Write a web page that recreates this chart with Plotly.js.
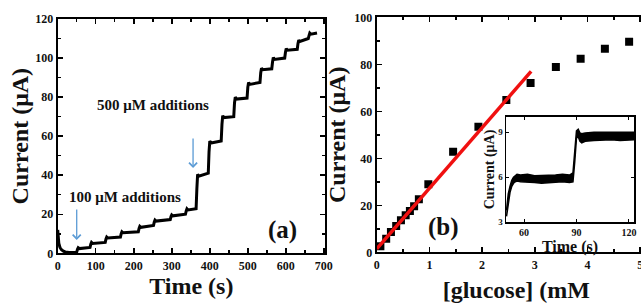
<!DOCTYPE html>
<html>
<head>
<meta charset="utf-8">
<script src="https://cdn.plot.ly/plotly-3.0.1.min.js"></script>
<style>
html,body{margin:0;padding:0;overflow:hidden;background:#fff;}
#chart{width:670px;height:305px;}
</style>
</head>
<body>
<div id="chart"></div>
<script>
// Panel (a): amperometric response
const timeS = [0,1,3,6,10,15,20,30,40,50,52,54,57,85,87,89,92,125,127,129,132,165,167,169,172,212,214,216,219,252,254,256,259,296,298,300,303,336,338,340,343,364,366,368,371,396,398,400,403,430,432,434,437,463,465,467,470,498,500,502,505,532,534,536,539,563,565,567,570,597,599,601,604,630,632,634,637,659,661,663,666,682];
const currentA = [12,8,5,3,1.8,1.1,0.7,0.4,0.4,0.6,2.0,2.8,2.4,3.0,4.6,5.6,5.0,5.6,7.3,8.3,7.8,8.3,10.0,11.0,10.5,11.0,12.8,13.8,13.3,14.3,16.0,17.0,16.5,17.3,18.8,19.7,19.2,20.0,21.7,22.8,22.2,22.8,33,40.5,39.5,41,52,57.5,56.5,57.5,66,70.5,69.5,70,77,80,79,79.5,85,87.5,86.5,87.5,92.5,94.8,94,94.5,98,100.3,99.3,100,103,104.8,104,104.5,107.5,109.2,108.5,110,111.5,112.8,112.2,112.8];

// Panel (b): calibration
const glucoseMM = [0.07,0.18,0.27,0.37,0.46,0.55,0.63,0.71,0.8,0.98,1.45,1.93,2.46,2.92,3.4,3.87,4.33,4.79];
const currentB = [2.6,5.8,8.6,11.2,13.6,15.8,17.6,19.6,22.6,29.0,42.8,53.4,64.8,72.0,78.8,82.4,86.6,89.6];
const fitX = [0, 2.93];
const fitY = [1.5, 77.0];

// Inset: response to one addition
const insetT = [50,51,52,53,54,55,56,58,62,66,70,74,78,82,86,88,89,90,91,92,93,95,100,105,110,115,120,123];
const insetUpper = [3.8,4.9,5.4,5.8,6.0,6.1,6.2,6.15,6.2,6.1,6.1,6.15,6.15,6.2,6.15,6.3,7.8,9.1,9.2,8.95,8.9,8.95,9.0,9.0,9.05,9.0,9.05,9.0];
const insetLower = [3.4,4.4,5.0,5.4,5.6,5.7,5.75,5.7,5.7,5.65,5.6,5.65,5.65,5.7,5.65,5.7,7.0,8.6,8.7,8.4,8.3,8.4,8.45,8.5,8.5,8.45,8.45,8.5];

const W = 670, H = 305;
const serif = 'Liberation Serif, Times New Roman, serif';
const bold = (s) => ({family: serif, size: s, color: '#111', weight: 'bold'});

const traces = [
  {x: timeS, y: currentA, type: 'scatter', mode: 'lines', line: {color: '#000', width: 3}, xaxis: 'x', yaxis: 'y', showlegend: false},
  {x: glucoseMM, y: currentB, type: 'scatter', mode: 'markers', marker: {symbol: 'square', size: 8, color: '#000'}, xaxis: 'x2', yaxis: 'y2', showlegend: false},
  {x: fitX, y: fitY, type: 'scatter', mode: 'lines', line: {color: '#f01010', width: 3.5}, xaxis: 'x2', yaxis: 'y2', showlegend: false},
  {x: insetT, y: insetLower, type: 'scatter', mode: 'lines', line: {color: '#000', width: 1.5}, xaxis: 'x3', yaxis: 'y3', showlegend: false},
  {x: insetT, y: insetUpper, type: 'scatter', mode: 'lines', fill: 'tonexty', fillcolor: '#000', line: {color: '#000', width: 1.5}, xaxis: 'x3', yaxis: 'y3', showlegend: false}
];

const axBase = {showline: true, linecolor: '#000', mirror: 'allticks', ticks: 'inside', tickcolor: '#000', showgrid: false, zeroline: false, fixedrange: true, automargin: false};

const layout = {
  width: W, height: H,
  margin: {l: 0, r: 0, t: 0, b: 0},
  paper_bgcolor: '#fff', plot_bgcolor: 'rgba(0,0,0,0)',
  showlegend: false,
  xaxis: Object.assign({}, axBase, {
    domain: [57.7/W, 325/W], range: [0, 703], dtick: 100, tick0: 0, ticklen: 5, tickwidth: 1.5, linewidth: 2,
    minor: {dtick: 50, ticks: 'inside', ticklen: 3, tickcolor: '#000'},
    tickfont: bold(12),
    title: {text: 'Time (s)', font: bold(24), standoff: 4},
    anchor: 'y'
  }),
  yaxis: Object.assign({}, axBase, {
    domain: [1 - 253.3/H, 1 - 19/H], range: [0, 120], dtick: 20, ticklen: 5, tickwidth: 1.5, linewidth: 2,
    minor: {dtick: 10, ticks: 'inside', ticklen: 3, tickcolor: '#000'},
    tickfont: bold(12),
    title: {text: 'Current (μA)', font: bold(24), standoff: 0},
    anchor: 'x'
  }),
  xaxis2: Object.assign({}, axBase, {
    domain: [376.7/W, 656/W], range: [0, 5.3], dtick: 1, tick0: 0, ticklen: 5, tickwidth: 1.5, linewidth: 2,
    minor: {dtick: 0.5, ticks: 'inside', ticklen: 3, tickcolor: '#000'},
    tickfont: bold(12),
    title: {text: '[glucose] (mM', font: bold(24), standoff: 10},
    anchor: 'y2'
  }),
  yaxis2: Object.assign({}, axBase, {
    domain: [1 - 252.3/H, 1 - 17.3/H], range: [0, 100], dtick: 20, ticklen: 5, tickwidth: 1.5, linewidth: 2,
    minor: {dtick: 10, ticks: 'inside', ticklen: 3, tickcolor: '#000'},
    tickfont: bold(12),
    title: {text: 'Current (μA)', font: bold(24), standoff: 2},
    anchor: 'x2'
  }),
  xaxis3: Object.assign({}, axBase, {
    domain: [506/W, 634/W], range: [49.7, 122.9], tickvals: [60, 90, 120], ticklen: 3, tickwidth: 1, linewidth: 1.5,
    tickfont: bold(10),
    title: {text: 'Time (s)', font: bold(16), standoff: 0},
    anchor: 'y3'
  }),
  yaxis3: Object.assign({}, axBase, {
    domain: [1 - 222.3/H, 1 - 116.7/H], range: [3, 10.04], tickvals: [3, 6, 9], ticklen: 3, tickwidth: 1, linewidth: 1.5,
    tickfont: bold(9),
    title: {text: 'Current (μA)', font: bold(14), standoff: 0},
    anchor: 'x3'
  }),
  annotations: [
    {xref: 'x', yref: 'y', x: 249.5, y: 75.9, text: '500 μM additions', showarrow: false, font: bold(15)},
    {xref: 'x', yref: 'y', x: 176, y: 28.8, text: '100 μM additions', showarrow: false, font: bold(15)},
    {xref: 'x', yref: 'y', x: 590, y: 11.9, text: '(a)', showarrow: false, font: bold(25)},
    {xref: 'x2', yref: 'y2', x: 1.26, y: 10.8, text: '(b)', showarrow: false, font: bold(25)},
    {xref: 'x', yref: 'y', x: 50, y: 6.8, axref: 'x', ayref: 'y', ax: 50, ay: 23.2, text: '', showarrow: true, arrowhead: 4, arrowsize: 1.2, arrowwidth: 1.3, arrowcolor: '#5b9bd5'},
    {xref: 'x', yref: 'y', x: 356, y: 43.7, axref: 'x', ayref: 'y', ax: 356, ay: 59.6, text: '', showarrow: true, arrowhead: 4, arrowsize: 1.2, arrowwidth: 1.3, arrowcolor: '#5b9bd5'}
  ]
};

Plotly.newPlot('chart', traces, layout, {displayModeBar: false, staticPlot: true});
</script>
</body>
</html>
